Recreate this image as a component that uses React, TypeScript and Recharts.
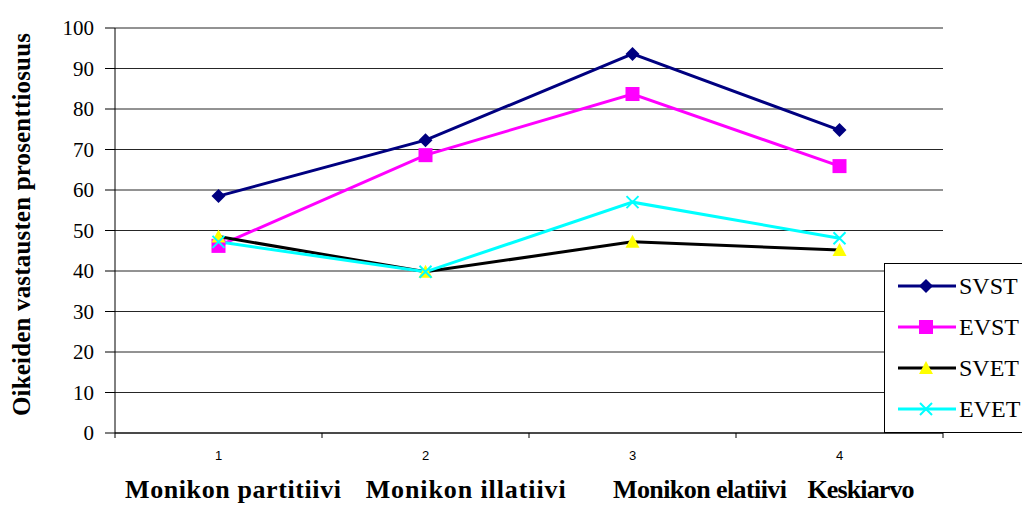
import { LineChart, Line, XAxis, YAxis, CartesianGrid, Legend } from "recharts"

const categories = ["1", "2", "3", "4"]
const groupNames = ["Monikon partitiivi", "Monikon illatiivi", "Monikon elatiivi", "Keskiarvo"]
const svst = [58.5, 72.3, 93.6, 74.8]
const evst = [46.2, 68.6, 83.7, 65.9]
const svet = [48.5, 39.8, 47.2, 45.2]
const evet = [47.2, 39.8, 57.0, 48.1]
const yTicks = [0, 10, 20, 30, 40, 50, 60, 70, 80, 90, 100]

const data = categories.map((c, i) => ({
  x: i + 1,
  label: c,
  SVST: svst[i],
  EVST: evst[i],
  SVET: svet[i],
  EVET: evet[i],
}))

const series = [
  { key: "SVST", color: "#000080", marker: "diamond", markerColor: "#000080" },
  { key: "EVST", color: "#ff00ff", marker: "square", markerColor: "#ff00ff" },
  { key: "SVET", color: "#000000", marker: "triangle", markerColor: "#ffff00" },
  { key: "EVET", color: "#00ffff", marker: "cross", markerColor: "#00ffff" },
]

const serif = "Liberation Serif, DejaVu Serif, serif"
const sans = "Liberation Sans, Arial, sans-serif"

function Marker({ kind, cx, cy, color }: { kind: string; cx: number; cy: number; color: string }) {
  if (kind === "diamond")
    return <polygon points={`${cx},${cy - 7} ${cx + 7},${cy} ${cx},${cy + 7} ${cx - 7},${cy}`} fill={color} />
  if (kind === "square") return <rect x={cx - 7} y={cy - 7} width={14} height={14} fill={color} />
  if (kind === "triangle")
    return <polygon points={`${cx},${cy - 7} ${cx + 7},${cy + 6} ${cx - 7},${cy + 6}`} fill={color} />
  return (
    <path
      d={`M${cx - 6},${cy - 6}L${cx + 6},${cy + 6}M${cx + 6},${cy - 6}L${cx - 6},${cy + 6}`}
      stroke={color}
      strokeWidth={2}
      fill="none"
    />
  )
}

function XTick(props: any) {
  const { x, y, payload } = props
  const v = payload.value
  if (Number.isInteger(v)) {
    return (
      <text x={x} y={y + 27} textAnchor="middle" style={{ fontFamily: sans }} fontSize={13} fill="#000">
        {categories[v - 1]}
      </text>
    )
  }
  return <line x1={x} y1={y} x2={x} y2={y + 5} stroke="#000" />
}

// centre and width of each group name, as share of the plot width
const groupPos = [0.1425, 0.4235, 0.7065, 0.901]
const groupLen = [216, 200, 174, 107]

function BottomTitle(props: any) {
  const { x, y, width } = props.viewBox
  return (
    <g>
      {groupNames.map((g, i) => (
        <text
          key={g}
          x={x + width * groupPos[i]}
          y={y + 65}
          textAnchor="middle"
          textLength={groupLen[i]}
          lengthAdjust="spacing"
          style={{ fontFamily: serif, fontWeight: "bold", fontSize: 26 }}
          fill="#000"
        >
          {g}
        </text>
      ))}
    </g>
  )
}

function YTitle(props: any) {
  const { y, height } = props.viewBox
  const cx = 30
  const cy = y + height / 2 - 6
  return (
    <text
      x={cx}
      y={cy}
      transform={`rotate(-90, ${cx}, ${cy})`}
      textAnchor="middle"
      textLength={383}
      lengthAdjust="spacing"
      style={{ fontFamily: serif, fontWeight: "bold", fontSize: 25 }}
      fill="#000"
    >
      Oikeiden vastausten prosenttiosuus
    </text>
  )
}

function LegendBox() {
  return (
    <div
      style={{
        width: 150,
        height: 170,
        border: "1px solid #000",
        background: "#fff",
        boxSizing: "border-box",
        paddingTop: 1,
      }}
    >
      {series.map((s) => (
        <div key={s.key} style={{ display: "flex", alignItems: "center", height: 41 }}>
          <svg width={74} height={20} style={{ display: "block" }}>
            <line x1={13} y1={10} x2={71} y2={10} stroke={s.color} strokeWidth={3} />
            <Marker kind={s.marker} cx={41} cy={10} color={s.markerColor} />
          </svg>
          <span style={{ fontFamily: serif, fontSize: 24, color: "#000", lineHeight: 1 }}>{s.key}</span>
        </div>
      ))}
    </div>
  )
}

export default function App() {
  return (
    <div style={{ position: "absolute", left: 0, top: 0, width: 1022, height: 508, overflow: "hidden", background: "#fff" }}>
      <LineChart width={1022} height={508} data={data} margin={{ top: 28, right: 79, bottom: 0, left: 0 }}>
        <CartesianGrid vertical={false} stroke="#000" strokeOpacity={0.85} />
        <XAxis
          dataKey="x"
          type="number"
          domain={[0.5, 4.5]}
          ticks={[0.5, 1, 1.5, 2, 2.5, 3, 3.5, 4, 4.5]}
          interval={0}
          tickLine={false}
          tickSize={0}
          tickMargin={0}
          tick={<XTick />}
          axisLine={{ stroke: "#000" }}
          height={75}
          label={<BottomTitle />}
        />
        <YAxis
          domain={[0, 100]}
          ticks={yTicks}
          interval={0}
          width={115}
          tickSize={10}
          tickMargin={11}
          axisLine={{ stroke: "#000" }}
          tickLine={{ stroke: "#000" }}
          tick={{ fontSize: 21, fill: "#000", style: { fontFamily: serif } }}
          label={<YTitle />}
        />
        <YAxis
          yAxisId="frame"
          orientation="right"
          domain={[0, 100]}
          width={0}
          tick={false}
          tickLine={false}
          axisLine={{ stroke: "#808080" }}
        />
        {series.map((s) => (
          <Line
            key={s.key}
            dataKey={s.key}
            type="linear"
            stroke={s.color}
            strokeWidth={3}
            isAnimationActive={false}
            dot={(p: any) => <Marker key={`${s.key}-${p.index}`} kind={s.marker} cx={p.cx} cy={p.cy} color={s.markerColor} />}
            activeDot={false}
          />
        ))}
        <Legend
          layout="vertical"
          align="center"
          verticalAlign="middle"
          content={<LegendBox />}
          wrapperStyle={{ position: "absolute", left: 884, top: 263, width: 150, height: 170, margin: 0 }}
        />
      </LineChart>
    </div>
  )
}
